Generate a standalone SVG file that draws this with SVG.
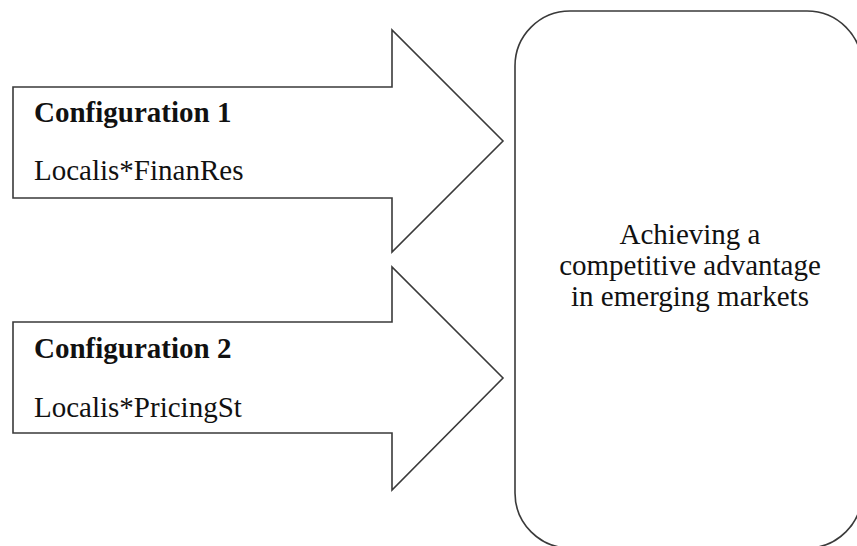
<svg xmlns="http://www.w3.org/2000/svg" width="857" height="546" viewBox="0 0 857 546">
<style>
.shape{fill:#ffffff;stroke:#3a3a3a;stroke-width:1.6;stroke-linejoin:miter}
text{font-family:'Liberation Serif','Times New Roman',serif;font-size:29px;fill:#111}
.b{font-weight:bold}
.c{text-anchor:middle}
</style>
<rect width="857" height="546" fill="#ffffff"/>
<g id="outcome">
<rect class="shape" x="515" y="11" width="347" height="537" rx="55" ry="55"/>
<text class="c" x="690" y="244">Achieving a</text>
<text class="c" x="690" y="275">competitive advantage</text>
<text class="c" x="690" y="306">in emerging markets</text>
</g>
<g id="connectors">
<g id="config1">
<polygon class="shape" points="13,87 392,87 392,30 503,141 392,252 392,198 13,198"/>
<text class="b" x="34" y="122">Configuration 1</text>
<text x="34" y="180">Localis*FinanRes</text>
</g>
<g id="config2">
<polygon class="shape" points="13,322 392,322 392,267 503,378 392,490 392,433 13,433"/>
<text class="b" x="34" y="358">Configuration 2</text>
<text x="34" y="417">Localis*PricingSt</text>
</g>
</g>
</svg>
